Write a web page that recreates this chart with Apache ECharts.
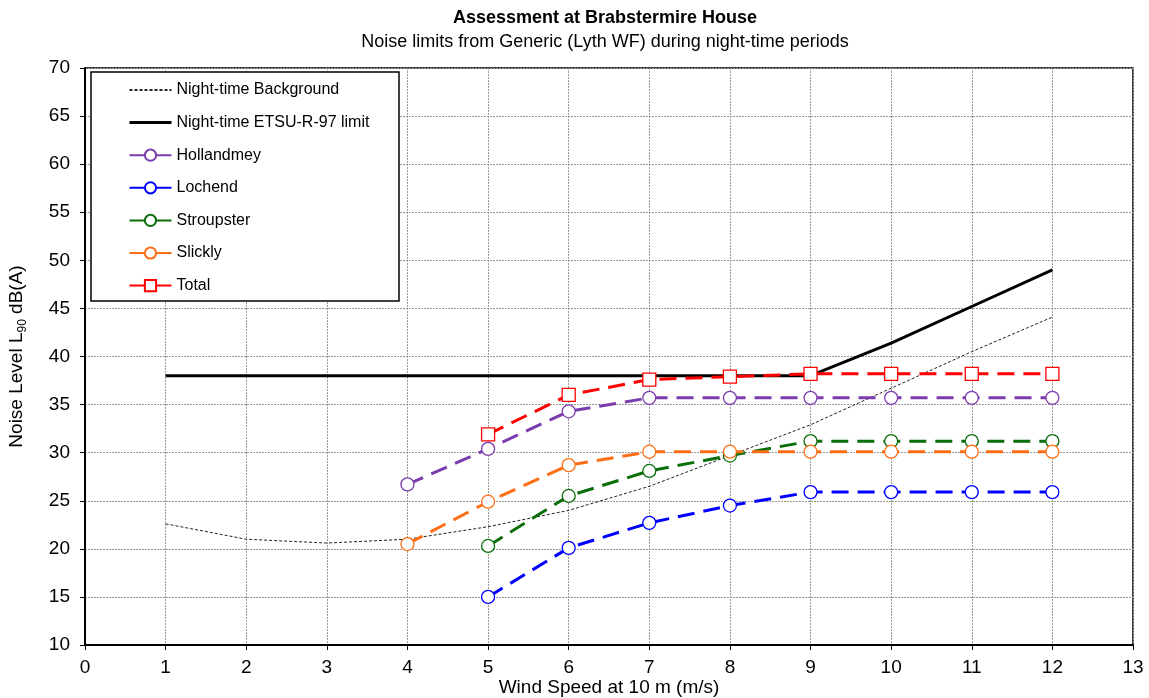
<!DOCTYPE html>
<html>
<head>
<meta charset="utf-8">
<script src="https://cdn.jsdelivr.net/npm/echarts@6/dist/echarts.min.js"></script>
<style>
html,body{margin:0;padding:0;background:#fff;}
#chart{width:1149px;height:698px;}
</style>
</head>
<body>
<div id="chart"></div>
<script>
var windSpeeds = [1, 2, 3, 4, 5, 6, 7, 8, 9, 10, 11, 12];
var background = [22.6, 21.0, 20.6, 21.0, 22.3, 24.0, 26.5, 29.7, 32.9, 36.7, 40.5, 44.1];
var etsuLimit  = [38, 38, 38, 38, 38, 38, 38, 38, 38, 41.4, 45.2, 49.0];
var hollandmey = [null, null, null, 26.7, 30.4, 34.3, 35.7, 35.7, 35.7, 35.7, 35.7, 35.7];
var lochend    = [null, null, null, null, 15.0, 20.1, 22.7, 24.5, 25.9, 25.9, 25.9, 25.9];
var stroupster = [null, null, null, null, 20.3, 25.5, 28.1, 29.7, 31.2, 31.2, 31.2, 31.2];
var slickly    = [null, null, null, 20.5, 24.9, 28.7, 30.1, 30.1, 30.1, 30.1, 30.1, 30.1];
var total      = [null, null, null, null, 31.9, 36.0, 37.6, 37.9, 38.2, 38.2, 38.2, 38.2];
var xTicks = [0, 1, 2, 3, 4, 5, 6, 7, 8, 9, 10, 11, 12, 13];
var yTicks = [10, 15, 20, 25, 30, 35, 40, 45, 50, 55, 60, 65, 70];

function pairs(vals) {
  var out = [];
  for (var i = 0; i < windSpeeds.length; i++) {
    if (vals[i] !== null) out.push([windSpeeds[i], vals[i]]);
  }
  return out;
}

var FONT = 'Liberation Sans, Arial, sans-serif';
var dash = [17, 9];

function turbine(name, vals, color, symbol) {
  return {
    name: name, type: 'line', data: pairs(vals),
    symbol: symbol || 'circle', symbolSize: 13,
    showAllSymbol: true,
    lineStyle: { color: color, width: 3, type: dash },
    itemStyle: { color: '#fff', borderColor: color, borderWidth: 1.3 },
    emphasis: { disabled: true },
    z: 5
  };
}

var chart = echarts.init(document.getElementById('chart'), null, { renderer: 'canvas' });
chart.setOption({
  animation: false,
  backgroundColor: '#fff',
  textStyle: { fontFamily: FONT },
  title: {
    text: 'Assessment at Brabstermire House',
    subtext: 'Noise limits from Generic (Lyth WF) during night-time periods',
    left: 600, top: 4, textAlign: 'center', itemGap: 6,
    textStyle: { fontFamily: FONT, fontSize: 18, fontWeight: 'bold', color: '#000' },
    subtextStyle: { fontFamily: FONT, fontSize: 18, color: '#000' }
  },
  grid: {
    left: 85, right: 16, top: 68, bottom: 53,
    containLabel: false, outerBoundsMode: 'none',
    show: true, borderColor: '#000', borderWidth: 1.5, backgroundColor: '#fff'
  },
  graphic: [{
    type: 'rect', z: 3, silent: true,
    shape: { x: 91, y: 72, width: 308, height: 229 },
    style: { fill: '#fff', stroke: '#000', lineWidth: 1.5 }
  }],
  legend: {
    orient: 'vertical', left: 128, top: 82, z: 10,
    itemWidth: 42, itemHeight: 14, itemGap: 16.6,
    padding: 0,
    textStyle: { fontFamily: FONT, fontSize: 16, color: '#000' },
    data: [
      { name: 'Night-time Background', itemStyle: { opacity: 0 } },
      { name: 'Night-time ETSU-R-97 limit', itemStyle: { opacity: 0 }, lineStyle: { width: 3 } },
      'Hollandmey', 'Lochend', 'Stroupster', 'Slickly', 'Total'
    ]
  },
  xAxis: {
    type: 'value', min: xTicks[0], max: xTicks[xTicks.length - 1], interval: 1,
    name: 'Wind Speed at 10 m (m/s)', nameLocation: 'middle', nameGap: 33,
    nameMoveOverlap: false,
    nameTextStyle: { fontFamily: FONT, fontSize: 19, color: '#000' },
    axisLine: { lineStyle: { color: '#000', width: 2 } },
    axisTick: { show: true, length: 5, lineStyle: { color: '#000', width: 1 } },
    axisLabel: { fontFamily: FONT, fontSize: 19, color: '#000', margin: 13 },
    splitLine: { show: true, lineStyle: { color: '#999', width: 1, type: [2, 1] } }
  },
  yAxis: {
    type: 'value', min: yTicks[0], max: yTicks[yTicks.length - 1], interval: 5,
    name: '{a|Noise Level L}{s|90}{a| dB(A)}', nameLocation: 'middle', nameGap: 56, nameRotate: 90,
    nameMoveOverlap: false,
    nameTextStyle: {
      fontFamily: FONT, fontSize: 19, color: '#000',
      rich: {
        a: { fontFamily: FONT, fontSize: 19, color: '#000', lineHeight: 24 },
        s: { fontFamily: FONT, fontSize: 12, color: '#000', lineHeight: 12, verticalAlign: 'bottom' }
      }
    },
    axisLine: { show: true, lineStyle: { color: '#000', width: 2 } },
    axisTick: { show: true, length: 5, lineStyle: { color: '#000', width: 1 } },
    axisLabel: { fontFamily: FONT, fontSize: 19, color: '#000', margin: 15 },
    splitLine: { show: true, lineStyle: { color: '#999', width: 1, type: [2, 1] } }
  },
  series: [
    {
      name: 'Night-time Background', type: 'line', data: pairs(background),
      symbol: 'none', lineStyle: { color: '#222', width: 1, type: [3, 2] },
      itemStyle: { color: '#222' }, emphasis: { disabled: true }, z: 3
    },
    {
      name: 'Night-time ETSU-R-97 limit', type: 'line', data: pairs(etsuLimit),
      symbol: 'none', lineStyle: { color: '#000', width: 3 },
      itemStyle: { color: '#000' }, emphasis: { disabled: true }, z: 4
    },
    turbine('Hollandmey', hollandmey, '#7B3CAE'),
    turbine('Lochend', lochend, '#0000FF'),
    turbine('Stroupster', stroupster, '#0A6E0A'),
    turbine('Slickly', slickly, '#FF6E14'),
    turbine('Total', total, '#FF0000', 'rect')
  ]
});
</script>
</body>
</html>
